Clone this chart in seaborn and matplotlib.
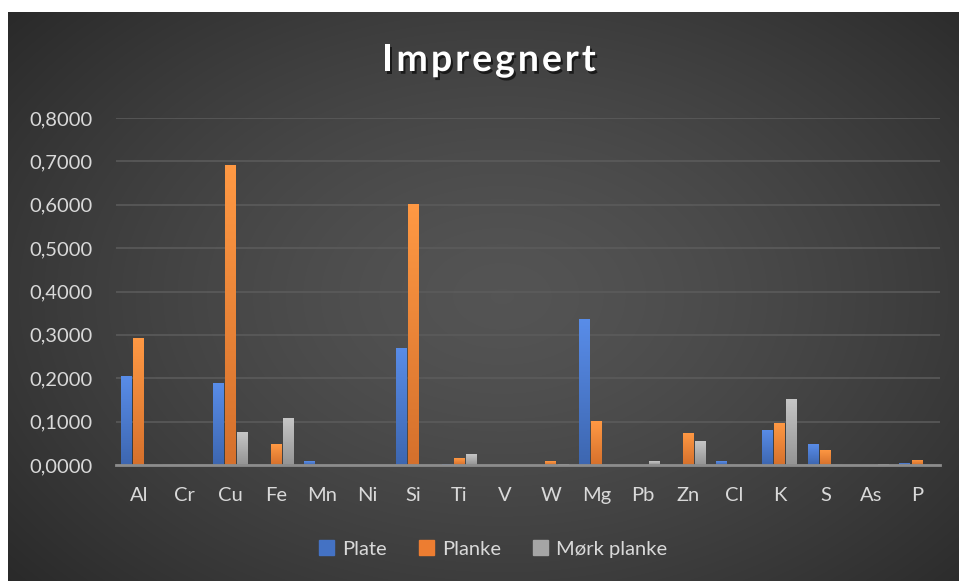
import numpy as np
import pandas as pd
import matplotlib
matplotlib.use("Agg")
import matplotlib.pyplot as plt
import matplotlib.patheffects as pe
from matplotlib.ticker import FuncFormatter, MultipleLocator
from matplotlib.colors import to_rgb
import seaborn as sns

# --- data -------------------------------------------------------------
elements = ["Al", "Cr", "Cu", "Fe", "Mn", "Ni", "Si", "Ti", "V", "W",
            "Mg", "Pb", "Zn", "Cl", "K", "S", "As", "P"]
plate = [0.205, 0.0, 0.189, 0.0, 0.009, 0.0, 0.270, 0.002, 0.0, 0.0,
         0.336, 0.0, 0.001, 0.009, 0.081, 0.048, 0.0, 0.005]
planke = [0.293, 0.0, 0.691, 0.048, 0.0, 0.0, 0.601, 0.016, 0.0, 0.009,
          0.101, 0.0, 0.074, 0.0, 0.097, 0.035, 0.0, 0.012]
mork_planke = [0.0, 0.0, 0.076, 0.108, 0.0, 0.0, 0.0, 0.025, 0.0, 0.002,
               0.0, 0.009, 0.055, 0.0, 0.152, 0.0, 0.003, 0.0]
series_names = ["Plate", "Planke", "Mørk planke"]
series_colors = ["#4472C4", "#ED7D31", "#A5A5A5"]
title = "Impregnert"

df = pd.DataFrame({
    "Element": elements * 3,
    "Serie": [s for s in series_names for _ in elements],
    "Verdi": plate + planke + mork_planke,
})

# --- figure -----------------------------------------------------------
W, H = 959, 581
fig = plt.figure(figsize=(W / 100, H / 100), dpi=100, facecolor="white")
font = "Lato"
txt_col = "#D9D9D9"

# dark radial-gradient chart area
bg = fig.add_axes([8 / W, 0, (W - 8) / W, (H - 12) / H], zorder=0)
bg.set_axis_off()
yy, xx = np.mgrid[0:1:400j, 0:1:600j]
r = np.sqrt(((xx - 0.52) / 0.75) ** 2 + ((yy - 0.5) / 0.85) ** 2)
v = np.clip(0.33 - 0.19 * r ** 1.4, 0.14, 0.33)
bg.imshow(np.dstack([v, v, v]), aspect="auto", extent=[0, 1, 0, 1],
          interpolation="bilinear")
bg.set_xlim(0, 1)
bg.set_ylim(0, 1)

ax = fig.add_axes([116 / W, 116 / H, (940 - 116) / W, (465 - 118) / H], zorder=1)
ax.patch.set_alpha(0)

sns.barplot(data=df, x="Element", y="Verdi", hue="Serie", order=elements,
            hue_order=series_names, palette=series_colors, width=0.8, gap=0.1,
            ax=ax, legend=False, saturation=1)

ax.set_xlim(-0.5, len(elements) - 0.5)
ax.set_ylim(0, 0.8)

# vertical shading on each bar
for patch in list(ax.patches):
    x0, y0 = patch.get_x(), patch.get_y()
    w, h = patch.get_width(), patch.get_height()
    if h <= 0:
        continue
    base = np.array(to_rgb(patch.get_facecolor()))
    top = np.clip(base * 1.12 + 0.05, 0, 1)
    bot = np.clip(base * 0.9, 0, 1)
    t = np.linspace(0, 1, 64)[:, None]
    grad = top * (1 - t) + bot * t
    img = ax.imshow(grad[:, None, :], aspect="auto",
                    extent=[x0, x0 + w, y0, y0 + h], zorder=2,
                    interpolation="bilinear")
    img.set_clip_path(patch)
    patch.set_alpha(0)
ax.set_xlim(-0.5, len(elements) - 0.5)
ax.set_ylim(0, 0.8)

# axes styling
ax.yaxis.set_major_locator(MultipleLocator(0.1))
ax.yaxis.set_major_formatter(FuncFormatter(lambda val, _: f"{val:.4f}".replace(".", ",")))
ax.grid(axis="y", color="#5c5c5c", linewidth=1.4, alpha=0.8, zorder=0)
ax.set_axisbelow(True)
for s in ["top", "right", "left"]:
    ax.spines[s].set_visible(False)
ax.spines["bottom"].set_color("#8c8c8c")
ax.spines["bottom"].set_linewidth(2.0)
ax.spines["bottom"].set_zorder(3)
ax.tick_params(axis="both", length=0, colors=txt_col, labelsize=14.5)
ax.tick_params(axis="y", pad=17)
ax.tick_params(axis="x", pad=16)
for lab in ax.get_xticklabels() + ax.get_yticklabels():
    lab.set_fontfamily(font)
ax.set_xlabel("")
ax.set_ylabel("")

# title, drawn with extra letter spacing
renderer = fig.canvas.get_renderer()
title_kw = dict(fontsize=27, fontweight="bold", color="white", fontfamily=font,
                va="center", ha="left",
                path_effects=[pe.withSimplePatchShadow(offset=(1.5, -2),
                                                       shadow_rgbFace="black", alpha=0.6)])
spacing = 3.0  # px between letters
widths = []
for ch in title:
    t = fig.text(0, 0, ch, **title_kw)
    widths.append(t.get_window_extent(renderer).width)
    t.remove()
total = sum(widths) + spacing * (len(title) - 1)
x = 489 - total / 2
for ch, wch in zip(title, widths):
    fig.text(x / W, 1 - 60 / H, ch, **title_kw)
    x += wch + spacing

# legend
handles = [plt.Rectangle((0, 0), 1, 1, color=c) for c in series_colors]
fig.legend(handles, series_names, loc="center", bbox_to_anchor=(493 / W, 1 - 549 / H),
           ncol=3, frameon=False, prop={"family": font, "size": 14.5},
           labelcolor=txt_col, handlelength=0.75, handleheight=0.75,
           handletextpad=0.4, columnspacing=1.6)

fig.savefig("out.png", dpi=100, facecolor="white")
